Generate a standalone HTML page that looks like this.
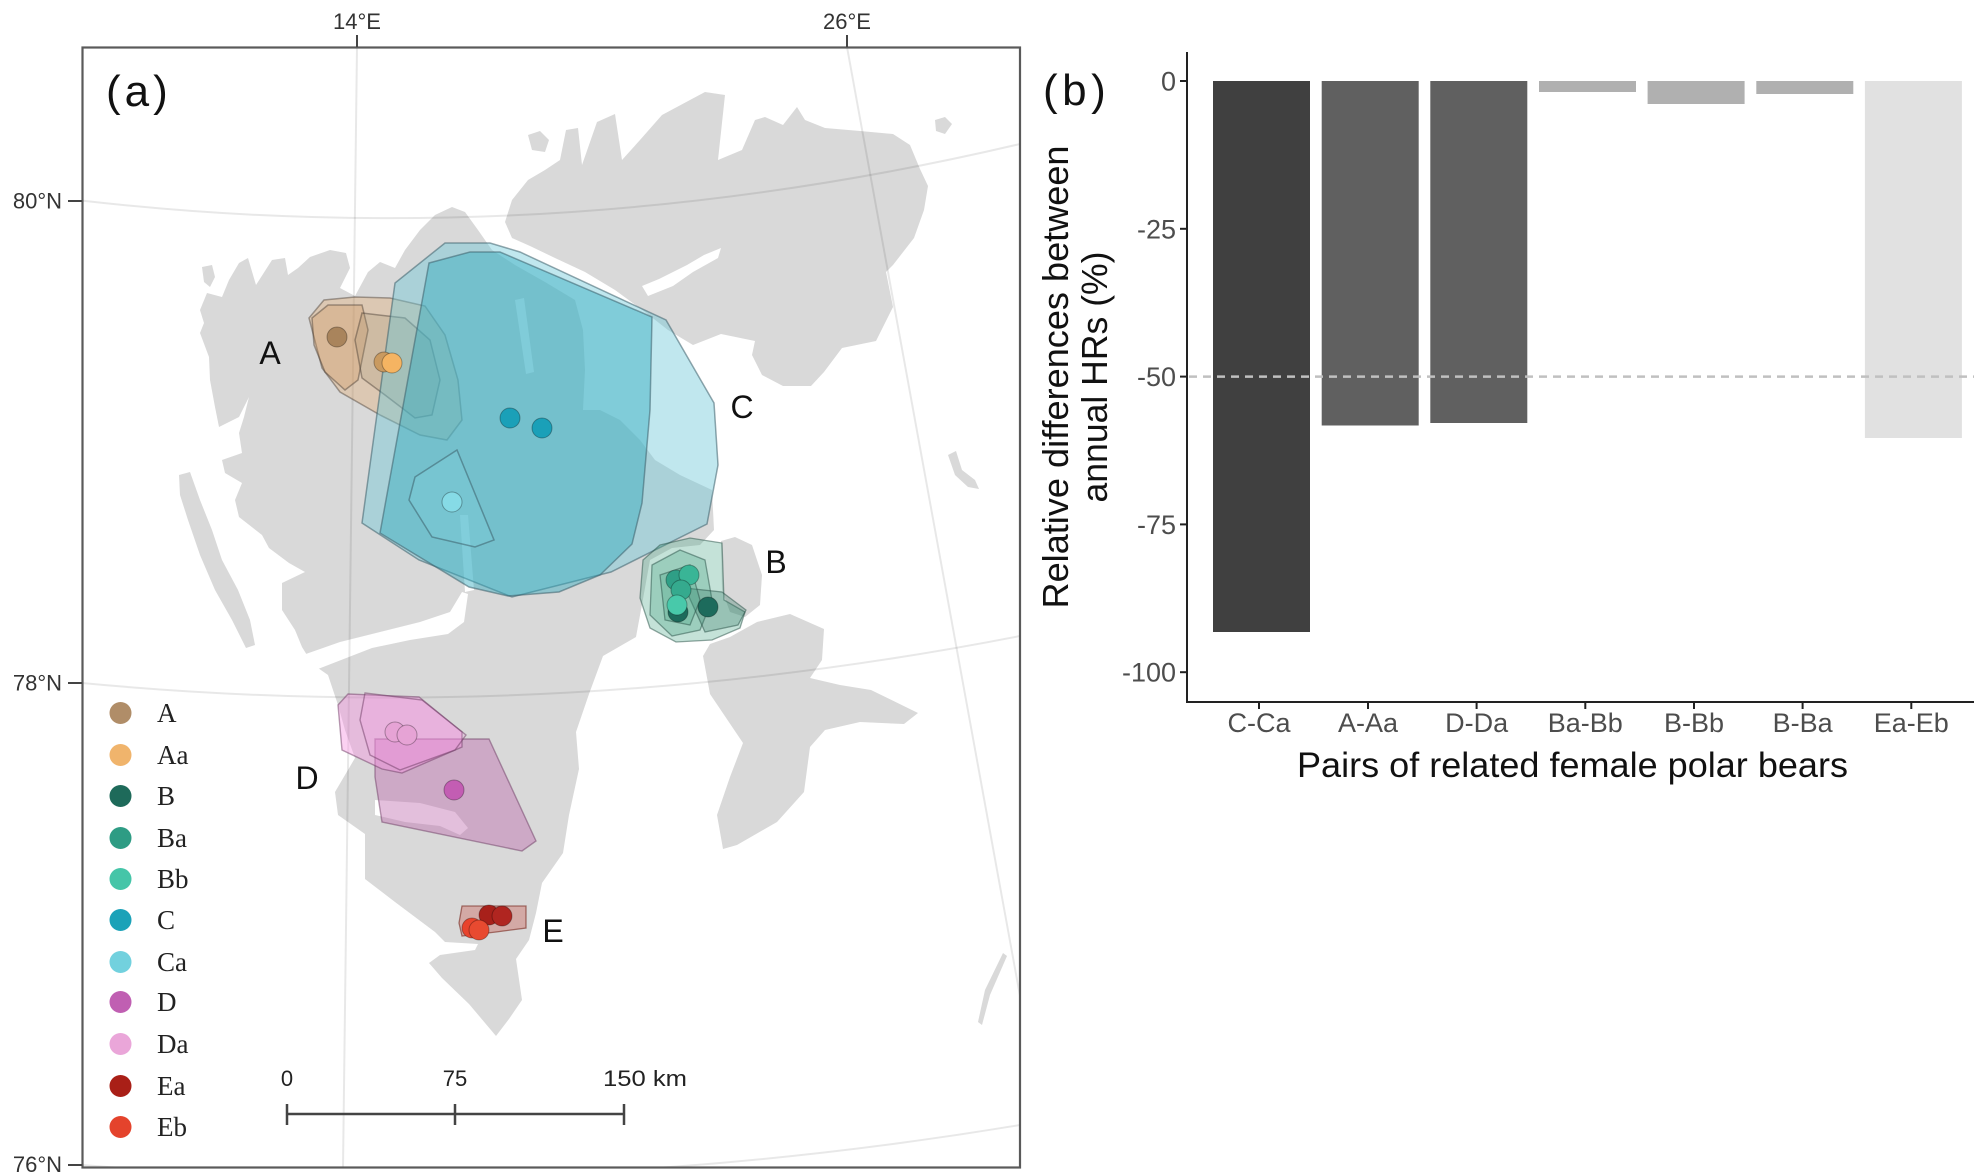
<!DOCTYPE html>
<html><head><meta charset="utf-8"><style>
html,body{margin:0;padding:0;background:#fff;}
svg{display:block;}
text{font-family:"Liberation Sans",Arial,sans-serif;}
.serif text{font-family:"Liberation Serif","Times New Roman",serif;}
</style></head><body>
<svg width="1974" height="1174" viewBox="0 0 1974 1174" xmlns="http://www.w3.org/2000/svg">
<defs><clipPath id="fr"><rect x="82" y="47" width="938" height="1121"/></clipPath></defs>
<rect width="1974" height="1174" fill="#fff"/>
<g clip-path="url(#fr)">
<g fill="#d9d9d9">
<polygon points="207,293 222,297 229,280 239,263 248,258 256,285 272,260 285,258 288,275 298,268 310,257 330,250 346,253 350,268 340,288 355,296 368,272 380,262 395,268 405,250 420,230 435,215 452,207 465,212 478,230 492,250 515,265 545,282 575,300 583,330 585,370 583,410 600,410 620,420 640,440 655,460 680,475 712,490 714,530 700,545 672,548 650,560 643,599 636,637 603,656 589,694 576,732 579,769 569,815 563,853 542,883 536,913 529,940 516,959 522,1000 509,1019 496,1036 469,1004 442,978 429,963 440,955 475,950 478,944 445,942 435,932 395,902 365,879 365,834 338,815 335,792 355,758 345,730 338,705 328,675 318,668 310,660 302,647 295,630 282,610 282,583 305,572 289,563 269,548 262,535 239,517 235,500 242,483 225,473 222,460 242,453 239,433 244,417 249,397 239,417 219,427 215,407 210,380 209,357 200,333 204,323 200,310"/>
<polygon points="505,222 512,200 528,180 545,170 560,160 566,130 578,128 582,165 597,122 615,114 622,160 640,140 662,115 690,100 705,92 725,95 718,160 742,150 755,120 765,117 783,125 797,107 805,120 825,128 860,131 893,134 910,145 920,169 928,186 924,210 914,238 893,265 886,272 893,307 876,341 842,348 824,372 811,386 783,386 762,375 752,355 755,341 721,334 693,345 668,330 645,312 615,290 585,272 555,258 530,246 512,238"/>
<polygon points="721,541 735,537 752,545 762,575 760,605 745,617 730,612 722,590"/>
<polygon points="757,622 790,614 824,629 822,660 810,678 840,685 871,690 918,713 904,724 860,722 825,730 810,747 804,792 777,822 737,845 723,849 717,815 730,777 743,743 710,694 703,656 710,644 730,637"/>
<polygon points="948,455 956,451 962,470 975,480 979,489 968,487 955,475"/>
<polygon points="1003,953 1007,956 990,995 982,1025 978,1022 985,990"/>
<polygon points="935,120 945,117 952,124 945,134 936,131"/>
<polygon points="528,135 540,131 549,140 545,152 532,150"/>
<polygon points="202,267 212,265 215,277 210,287 204,282"/>
<polygon points="179,475 190,472 200,500 212,530 222,560 238,590 250,620 255,645 246,648 232,620 215,590 200,555 188,520 180,495"/>
</g>
<g fill="#fff">
<polygon points="642,286 659,279 687,265 704,255 721,248 718,258 693,272 673,286 648,296"/>
<polygon points="515,300 524,298 534,372 526,374"/>
<polygon points="303,655 340,642 380,632 420,622 450,612 462,592 468,594 464,622 448,634 410,640 372,648 336,662 318,669"/>
<polygon points="460,515 468,515 474,590 465,592"/>
<polygon points="375,800 420,803 455,812 468,828 460,835 440,826 405,822 375,815"/>
</g>
<g fill="none" stroke="rgba(0,0,0,0.09)" stroke-width="2">
<path d="M82,200.6 Q551,254.3 1020,144"/>
<path d="M82,683 Q551,727.6 1020,636"/>
<path d="M82,1165 Q551,1202.9 1020,1125"/>
<path d="M357,47 L343,1168"/>
<path d="M847,47 L1020,996"/>
</g>
<g stroke="rgba(70,60,50,0.45)" stroke-width="1.5">
<polygon fill="rgba(225,170,110,0.35)" points="309,318 324,300 355,297 390,298 425,306 445,335 458,380 462,420 447,440 420,435 380,415 340,392 322,368"/>
<polygon fill="rgba(210,150,90,0.3)" points="312,318 328,305 362,305 368,330 358,380 345,390 325,372 314,345"/>
<polygon fill="rgba(160,140,110,0.22)" points="362,313 405,318 430,340 440,380 432,415 415,418 385,395 362,378 355,340"/>
</g>
<g stroke="rgba(60,95,105,0.55)" stroke-width="1.5">
<polygon fill="rgba(110,200,215,0.43)" points="362,523 395,283 445,243 490,243 520,252 666,320 714,403 718,465 707,524 611,572 512,597 419,560"/>
<polygon fill="rgba(50,170,190,0.45)" points="380,533 429,263 470,252 500,252 652,317 650,410 642,503 632,544 600,575 559,592 508,596 469,587"/>
<polygon fill="rgba(130,215,228,0.22)" points="415,477 457,450 494,540 475,547 432,537 409,500"/>
</g>
<g stroke="rgba(40,80,70,0.5)" stroke-width="1.3">
<polygon fill="rgba(70,165,135,0.32)" points="643,560 660,545 690,538 722,543 724,600 745,612 740,628 712,640 676,642 650,628 640,598"/>
<polygon fill="rgba(70,165,135,0.32)" points="652,565 680,550 705,560 712,600 700,630 672,636 650,615"/>
<polygon fill="rgba(50,120,100,0.3)" points="685,588 722,592 746,610 738,625 705,632"/>
<polygon fill="rgba(70,165,135,0.32)" points="660,575 690,565 700,600 690,625 665,620"/>
</g>
<g stroke="rgba(110,60,100,0.5)" stroke-width="1.4">
<polygon fill="rgba(188,103,172,0.42)" points="375,739 489,739 536,841 522,851 382,822 375,777"/>
<polygon fill="rgba(246,146,224,0.42)" points="338,705 348,694 419,697 462,732 462,747 402,773 382,769 342,750"/>
<polygon fill="rgba(246,146,224,0.2)" points="365,693 422,700 466,735 455,750 400,770 370,755 360,720"/>
</g>
<polygon fill="rgba(200,80,70,0.35)" stroke="rgba(120,40,30,0.6)" stroke-width="1.3" points="459,923 462,906 526,906 526,928 496,932 462,936"/>
<g stroke="rgba(0,0,0,0.3)" stroke-width="1">
<circle cx="337" cy="337" r="10" fill="#a9845c"/>
<circle cx="384" cy="362" r="10" fill="#c99a60"/>
<circle cx="392" cy="363" r="10" fill="#f5b462"/>
<circle cx="510" cy="418" r="10" fill="#1aa0b8"/>
<circle cx="542" cy="428" r="10" fill="#1aa0b8"/>
<circle cx="452" cy="502" r="10" fill="#86dbe6"/>
<circle cx="676" cy="580" r="10" fill="#2f9f86"/>
<circle cx="689" cy="575" r="10" fill="#39b596"/>
<circle cx="681" cy="590" r="10" fill="#35aa8e"/>
<circle cx="678" cy="612" r="10" fill="#1d6b5c"/>
<circle cx="677" cy="605" r="10" fill="#48c9aa"/>
<circle cx="708" cy="607" r="10" fill="#1d6b5c"/>
<circle cx="395" cy="732" r="10" fill="#e6a3d5"/>
<circle cx="407" cy="735" r="10" fill="#e6a3d5"/>
<circle cx="454" cy="790" r="10" fill="#c35db3"/>
<circle cx="489" cy="915" r="10" fill="#a8201a"/>
<circle cx="502" cy="916" r="10" fill="#b02520"/>
<circle cx="472" cy="928" r="10" fill="#e8432c"/>
<circle cx="479" cy="930" r="10" fill="#e84a30"/>
</g>
<g font-size="32" fill="#111" text-anchor="middle">
<text x="270" y="364">A</text>
<text x="776" y="573">B</text>
<text x="742" y="418">C</text>
<text x="307" y="789">D</text>
<text x="553" y="942">E</text>
</g>
<g>
<circle cx="120.5" cy="713" r="11" fill="#b08d68"/>
<circle cx="120.5" cy="755" r="11" fill="#f0b46c"/>
<circle cx="120.5" cy="796" r="11" fill="#1e6a5a"/>
<circle cx="120.5" cy="838" r="11" fill="#2e9c84"/>
<circle cx="120.5" cy="879" r="11" fill="#45c5a8"/>
<circle cx="120.5" cy="920" r="11" fill="#1ba2b8"/>
<circle cx="120.5" cy="962" r="11" fill="#72d1de"/>
<circle cx="120.5" cy="1002" r="11" fill="#c05fb2"/>
<circle cx="120.5" cy="1044" r="11" fill="#eaa6d9"/>
<circle cx="120.5" cy="1086" r="11" fill="#a91f17"/>
<circle cx="120.5" cy="1127" r="11" fill="#e4432c"/>
</g>
<g class="serif" font-size="27" fill="#222">
<text x="157" y="722">A</text>
<text x="157" y="764">Aa</text>
<text x="157" y="805">B</text>
<text x="157" y="847">Ba</text>
<text x="157" y="888">Bb</text>
<text x="157" y="929">C</text>
<text x="157" y="971">Ca</text>
<text x="157" y="1011">D</text>
<text x="157" y="1053">Da</text>
<text x="157" y="1095">Ea</text>
<text x="157" y="1136">Eb</text>
</g>
<g stroke="#444" stroke-width="2.5" fill="none">
<line x1="287" y1="1114" x2="624" y2="1114"/>
<line x1="287" y1="1104" x2="287" y2="1125"/>
<line x1="455" y1="1104" x2="455" y2="1125"/>
<line x1="624" y1="1104" x2="624" y2="1125"/>
</g>
<g font-size="22" fill="#222">
<text x="287" y="1086" text-anchor="middle">0</text>
<text x="455" y="1086" text-anchor="middle">75</text>
<text x="603" y="1086" textLength="84" lengthAdjust="spacingAndGlyphs">150 km</text>
</g>
<text x="106" y="106" font-size="44" letter-spacing="4" fill="#111">(a)</text>
</g>
<rect x="82.5" y="47.5" width="937.5" height="1120" fill="none" stroke="#5a5a5a" stroke-width="2.2"/>
<g stroke="#444" stroke-width="2">
<line x1="68" y1="201" x2="82" y2="201"/>
<line x1="68" y1="683" x2="82" y2="683"/>
<line x1="68" y1="1165" x2="82" y2="1165"/>
<line x1="357" y1="35" x2="357" y2="47"/>
<line x1="847" y1="35" x2="847" y2="47"/>
</g>
<g font-size="22" fill="#333">
<text x="62" y="208.5" text-anchor="end">80°N</text>
<text x="62" y="690.5" text-anchor="end">78°N</text>
<text x="62" y="1172" text-anchor="end">76°N</text>
<text x="357" y="29" text-anchor="middle">14°E</text>
<text x="847" y="29" text-anchor="middle">26°E</text>
</g>

<!-- panel b -->
<text x="1043" y="105" font-size="44" letter-spacing="4.5" fill="#111">(b)</text>
<g>
<rect x="1213" y="81" width="97" height="551" fill="#404040"/>
<rect x="1321.7" y="81" width="97" height="344.5" fill="#606060"/>
<rect x="1430.3" y="81" width="97" height="342" fill="#606060"/>
<rect x="1539" y="81" width="97" height="11" fill="#b0b0b0"/>
<rect x="1647.6" y="81" width="97" height="23" fill="#b0b0b0"/>
<rect x="1756.3" y="81" width="97" height="13" fill="#b0b0b0"/>
<rect x="1864.9" y="81" width="97" height="357" fill="#e1e1e1"/>
</g>
<line x1="1189" y1="376.6" x2="1974" y2="376.6" stroke="#c0c0c0" stroke-width="2.5" stroke-dasharray="8 6"/>
<g stroke="#222" stroke-width="2">
<line x1="1187" y1="52" x2="1187" y2="703"/>
<line x1="1186" y1="702" x2="1974" y2="702"/>
<line x1="1180" y1="81" x2="1187" y2="81"/>
<line x1="1180" y1="228.8" x2="1187" y2="228.8"/>
<line x1="1180" y1="376.6" x2="1187" y2="376.6"/>
<line x1="1180" y1="524.4" x2="1187" y2="524.4"/>
<line x1="1180" y1="672.2" x2="1187" y2="672.2"/>
<line x1="1259" y1="702" x2="1259" y2="709"/>
<line x1="1368" y1="702" x2="1368" y2="709"/>
<line x1="1476.6" y1="702" x2="1476.6" y2="709"/>
<line x1="1585.3" y1="702" x2="1585.3" y2="709"/>
<line x1="1694" y1="702" x2="1694" y2="709"/>
<line x1="1802.6" y1="702" x2="1802.6" y2="709"/>
<line x1="1911.3" y1="702" x2="1911.3" y2="709"/>
</g>
<g font-size="27" fill="#4d4d4d" text-anchor="end">
<text x="1176" y="90.5">0</text>
<text x="1176" y="238.3">-25</text>
<text x="1176" y="386.1">-50</text>
<text x="1176" y="533.9">-75</text>
<text x="1176" y="681.7">-100</text>
</g>
<g font-size="27" fill="#4d4d4d" text-anchor="middle">
<text x="1259" y="732">C-Ca</text>
<text x="1368" y="732">A-Aa</text>
<text x="1476.6" y="732">D-Da</text>
<text x="1585.3" y="732">Ba-Bb</text>
<text x="1694" y="732">B-Bb</text>
<text x="1802.6" y="732">B-Ba</text>
<text x="1911.3" y="732">Ea-Eb</text>
</g>
<text x="1297" y="777" font-size="35" fill="#111" textLength="551" lengthAdjust="spacingAndGlyphs">Pairs of related female polar bears</text>
<text transform="translate(1068,377) rotate(-90)" text-anchor="middle" font-size="36" fill="#111" textLength="463" lengthAdjust="spacingAndGlyphs">Relative differences between</text>
<text transform="translate(1107,377) rotate(-90)" text-anchor="middle" font-size="36" fill="#111" textLength="251" lengthAdjust="spacingAndGlyphs">annual HRs (%)</text>
</svg>
</body></html>
